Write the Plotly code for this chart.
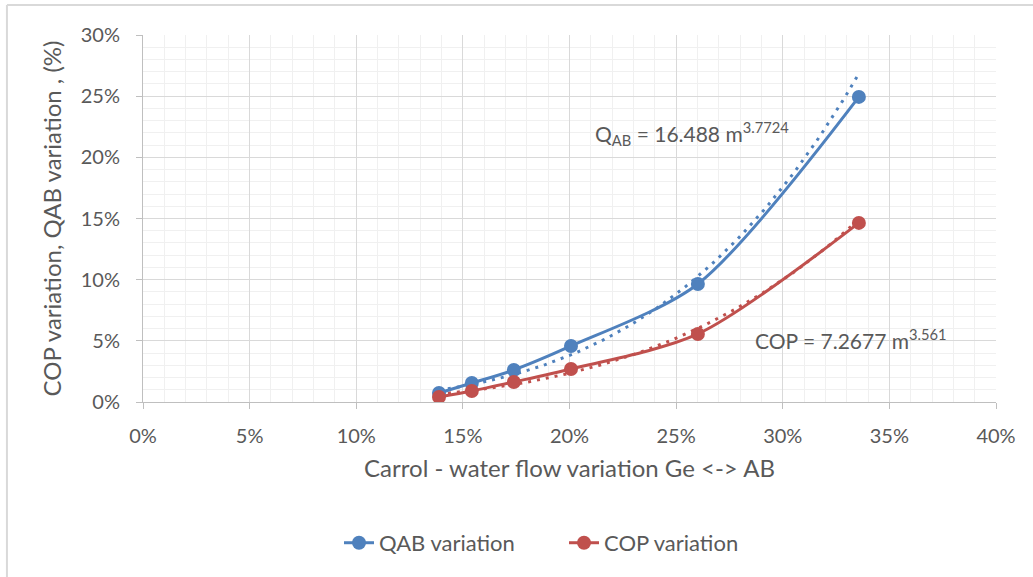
import numpy as np
import plotly.graph_objects as go

# Data (fractions)
flow_variation = [0.1388, 0.1542, 0.1739, 0.2007, 0.2602, 0.3357]
qab_variation = [0.0074, 0.0155, 0.0262, 0.0458, 0.0965, 0.2494]
cop_variation = [0.0041, 0.0090, 0.0164, 0.0270, 0.0556, 0.1464]

# Power trendline coefficients (as shown on the chart)
qab_coef, qab_exp = 16.488, 3.7724
cop_coef, cop_exp = 7.2677, 3.561

BLUE = "#4F81BD"
RED = "#C0504D"
TXT = "#595959"
FONT = "Lato"

xt = np.linspace(min(flow_variation), max(flow_variation), 80)

fig = go.Figure()
fig.add_trace(go.Scatter(x=xt, y=qab_coef * xt ** qab_exp, mode="lines",
                         line=dict(color=BLUE, width=3, dash="3px,6px"),
                         showlegend=False, hoverinfo="skip"))
fig.add_trace(go.Scatter(x=xt, y=cop_coef * xt ** cop_exp, mode="lines",
                         line=dict(color=RED, width=3, dash="3px,6px"),
                         showlegend=False, hoverinfo="skip"))
fig.add_trace(go.Scatter(x=flow_variation, y=qab_variation, mode="lines+markers",
                         name="QAB variation",
                         line=dict(color=BLUE, width=3, shape="spline", smoothing=0.8),
                         marker=dict(color=BLUE, size=14)))
fig.add_trace(go.Scatter(x=flow_variation, y=cop_variation, mode="lines+markers",
                         name="COP variation",
                         line=dict(color=RED, width=3, shape="spline", smoothing=0.8),
                         marker=dict(color=RED, size=14)))

fig.add_annotation(x=0.2574, y=0.2195, xref="x", yref="y",
                   text="Q<sub>AB</sub> = 16.488 m<sup>3.7724</sup>",
                   showarrow=False, font=dict(family=FONT, size=21, color=TXT))
fig.add_annotation(x=0.332, y=0.0515, xref="x", yref="y",
                   text="COP = 7.2677 m<sup>3.561</sup>",
                   showarrow=False, font=dict(family=FONT, size=21, color=TXT))

# outer chart frame (left and top edges visible)
fig.add_shape(type="line", xref="paper", yref="paper", x0=-0.1595, x1=1.1, y0=1.0817, y1=1.0817,
              line=dict(color="#D9D9D9", width=2))
fig.add_shape(type="line", xref="paper", yref="paper", x0=-0.1595, x1=-0.1595, y0=1.0817, y1=-0.5,
              line=dict(color="#D9D9D9", width=2))

fig.update_layout(
    width=1033, height=577,
    margin=dict(l=143, r=37, t=35, b=175),
    paper_bgcolor="white", plot_bgcolor="white",
    font=dict(family=FONT, size=20, color=TXT),
    legend=dict(orientation="h", x=0.2298, xanchor="left", y=-0.384, yanchor="middle",
                font=dict(family=FONT, size=22, color=TXT),
                traceorder="normal", entrywidth=180, entrywidthmode="pixels"),
    showlegend=True,
)
fig.update_xaxes(range=[0, 0.40], dtick=0.05, tickformat=".0%",
                 showgrid=True, gridcolor="#D9D9D9", gridwidth=1,
                 minor=dict(dtick=0.01, showgrid=True, gridcolor="#F0F0F0", gridwidth=1),
                 showline=True, linecolor="#BFBFBF", linewidth=1,
                 ticks="outside", ticklen=6, tickcolor="#BFBFBF",
                 ticklabelstandoff=10,
                 zeroline=False, tickfont=dict(size=20, color=TXT),
                 title=dict(text="Carrol - water flow variation Ge <-> AB",
                            font=dict(size=24, color=TXT), standoff=14))
fig.update_yaxes(range=[0, 0.30], dtick=0.05, tickformat=".0%",
                 showgrid=True, gridcolor="#D9D9D9", gridwidth=1,
                 minor=dict(dtick=0.01, showgrid=True, gridcolor="#F0F0F0", gridwidth=1),
                 showline=True, linecolor="#BFBFBF", linewidth=1,
                 ticks="outside", ticklen=6, tickcolor="#BFBFBF",
                 ticklabelstandoff=12,
                 zeroline=False, tickfont=dict(size=20, color=TXT),
                 title=dict(text="COP variation, QAB variation , (%)",
                            font=dict(size=24, color=TXT), standoff=12))

fig.write_html("out.html")
